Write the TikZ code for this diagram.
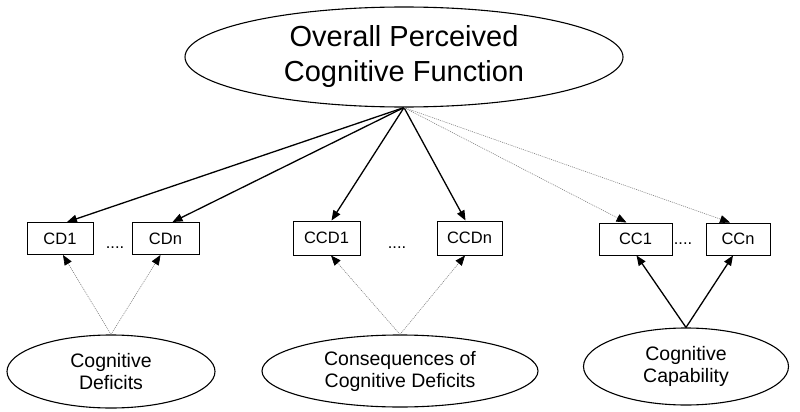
\documentclass[tikz,border=0pt]{standalone}
\usepackage{fontspec}
\setmainfont{Liberation Sans}
\usetikzlibrary{shapes.geometric,arrows.meta}
\begin{document}
\begin{tikzpicture}[x=1pt,y=-1pt,
  oval/.style={draw,ellipse,line width=1.1pt,inner sep=0pt,align=center},
  bigtext/.style={font=\fontsize{29}{35}\selectfont},
  midtext/.style={font=\fontsize{19.5}{22}\selectfont},
  boxnode/.style={draw,line width=1pt,minimum height=32pt,inner sep=0pt,font=\fontsize{16.5}{18}\selectfont},
  dotstext/.style={anchor=base,inner sep=0pt,font=\fontsize{16.5}{18}\selectfont},
  solidarrow/.style={line width=1.3pt,-{Triangle[length=10pt,width=8pt]}},
  dotarrow/.style={line width=0.6pt,gray,dash pattern=on 1pt off 1pt,-{Triangle[length=10pt,width=8pt,color=black,fill=black]}}
]
\useasboundingbox (0,0) rectangle (800,412);
% top ellipse
\node[oval,bigtext,minimum width=438pt,minimum height=100pt] (top) at (404,57) {Overall Perceived\\Cognitive Function};
% boxes
\node[boxnode,minimum width=66pt] (cd1) at (60,238.5) {CD1};
\node[boxnode,minimum width=67pt] (cdn) at (165.5,238.5) {CDn};
\node[boxnode,minimum width=67pt,minimum height=34pt] (ccd1) at (326.5,238) {CCD1};
\node[boxnode,minimum width=65pt,minimum height=34pt] (ccdn) at (469.5,238) {CCDn};
\node[boxnode,minimum width=73pt] (cc1) at (635.5,239) {CC1};
\node[boxnode,minimum width=64pt] (ccn) at (738,239) {CCn};
% dots
\node[dotstext] (d1) at (115,248) {....};
\node[dotstext] (d2) at (397,248) {....};
\node[dotstext] (d3) at (683,244) {....};
% bottom ellipses
\node[oval,midtext,minimum width=208pt,minimum height=73pt] (def) at (111,371.5) {Cognitive\\Deficits};
\node[oval,midtext,minimum width=276pt,minimum height=72pt] (cons) at (400,371) {Consequences of\\Cognitive Deficits};
\node[oval,midtext,minimum width=205pt,minimum height=77pt] (cap) at (686,366.5) {Cognitive\\Capability};
% top arrows
\draw[solidarrow] (top.south) -- ([xshift=7pt]cd1.north);
\draw[solidarrow] (top.south) -- ([xshift=7pt]cdn.north);
\draw[solidarrow] (top.south) -- ([xshift=5pt]ccd1.north);
\draw[solidarrow] (top.south) -- ([xshift=-4pt]ccdn.north);
\draw[dotarrow] (top.south) -- ([xshift=-9pt]cc1.north);
\draw[dotarrow] (top.south) -- ([xshift=-8pt]ccn.north);
% bottom arrows
\draw[dotarrow] (def.north) -- ([xshift=3pt]cd1.south);
\draw[dotarrow] (def.north) -- ([xshift=-5pt]cdn.south);
\draw[dotarrow] (cons.north) -- ([xshift=4.5pt]ccd1.south);
\draw[dotarrow] (cons.north) -- ([xshift=-4.5pt]ccdn.south);
\draw[solidarrow] (cap.north) -- ([xshift=1pt]cc1.south);
\draw[solidarrow] (cap.north) -- ([xshift=-5pt]ccn.south);
\end{tikzpicture}
\end{document}
